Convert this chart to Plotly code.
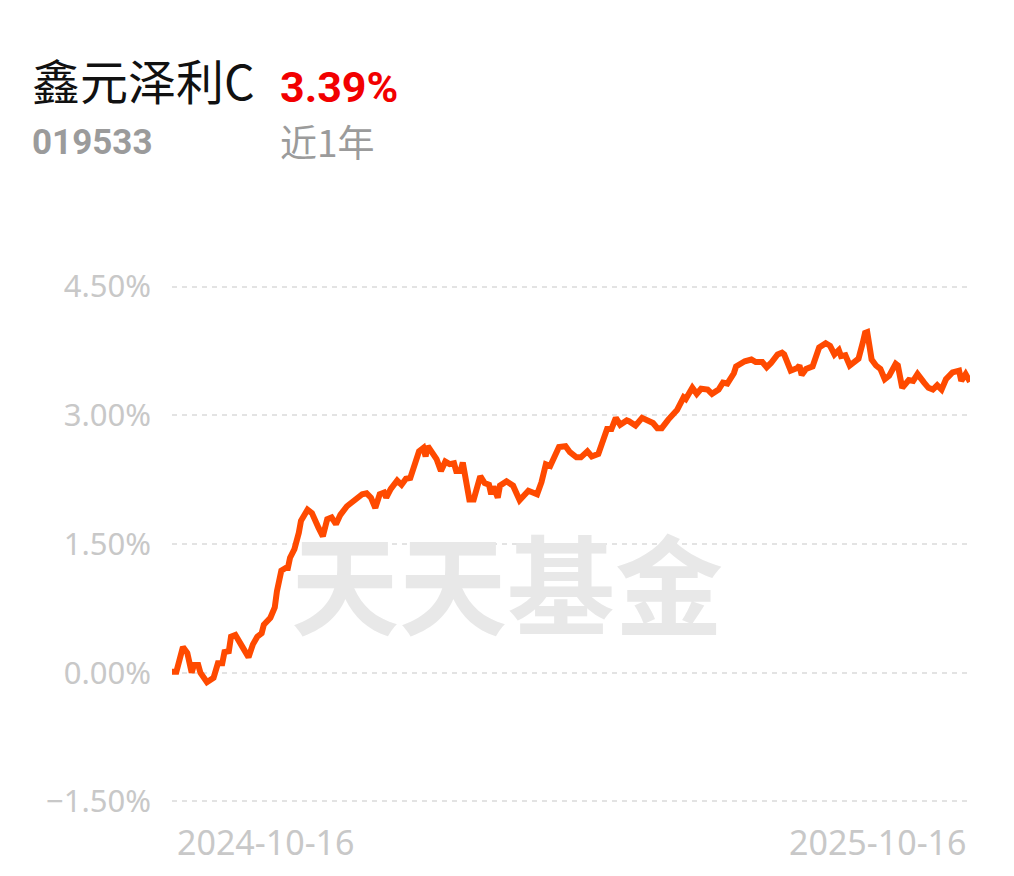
import plotly.graph_objects as go

# ---- data ----
dates = [
    "2024-10-16", "2024-10-18", "2024-10-21", "2024-10-23", "2024-10-25", "2024-10-26",
    "2024-10-28", "2024-10-29", "2024-11-01", "2024-11-04", "2024-11-06", "2024-11-08",
    "2024-11-09", "2024-11-11", "2024-11-12", "2024-11-14", "2024-11-17", "2024-11-20",
    "2024-11-22", "2024-11-24", "2024-11-26", "2024-11-27", "2024-11-30", "2024-12-02",
    "2024-12-03", "2024-12-05", "2024-12-07", "2024-12-08", "2024-12-09", "2024-12-11",
    "2024-12-13", "2024-12-14", "2024-12-17", "2024-12-19", "2024-12-22", "2024-12-24",
    "2024-12-26", "2024-12-28", "2024-12-30", "2025-01-01", "2025-01-04", "2025-01-08",
    "2025-01-11", "2025-01-13", "2025-01-15", "2025-01-17", "2025-01-19", "2025-01-21",
    "2025-01-22", "2025-01-24", "2025-01-27", "2025-01-29", "2025-01-31", "2025-02-02",
    "2025-02-04", "2025-02-06", "2025-02-08", "2025-02-09", "2025-02-10", "2025-02-13",
    "2025-02-14", "2025-02-16", "2025-02-18", "2025-02-20", "2025-02-22", "2025-02-23",
    "2025-02-25", "2025-02-26", "2025-02-27", "2025-03-01", "2025-03-03", "2025-03-06",
    "2025-03-08", "2025-03-10", "2025-03-11", "2025-03-12", "2025-03-14", "2025-03-15",
    "2025-03-18", "2025-03-21", "2025-03-24", "2025-03-28", "2025-03-30", "2025-04-01",
    "2025-04-03", "2025-04-05", "2025-04-07", "2025-04-11", "2025-04-14", "2025-04-16",
    "2025-04-19", "2025-04-21", "2025-04-24", "2025-04-26", "2025-04-29", "2025-05-01",
    "2025-05-03", "2025-05-05", "2025-05-07", "2025-05-09", "2025-05-12", "2025-05-13",
    "2025-05-16", "2025-05-19", "2025-05-22", "2025-05-24", "2025-05-26", "2025-05-28",
    "2025-05-31", "2025-06-04", "2025-06-07", "2025-06-08", "2025-06-11", "2025-06-13",
    "2025-06-15", "2025-06-18", "2025-06-20", "2025-06-23", "2025-06-25", "2025-06-27",
    "2025-06-30", "2025-07-01", "2025-07-05", "2025-07-08", "2025-07-10", "2025-07-13",
    "2025-07-15", "2025-07-17", "2025-07-20", "2025-07-22", "2025-07-23", "2025-07-26",
    "2025-07-29", "2025-07-30", "2025-07-31", "2025-08-02", "2025-08-05", "2025-08-07",
    "2025-08-08", "2025-08-11", "2025-08-13", "2025-08-15", "2025-08-17", "2025-08-18",
    "2025-08-20", "2025-08-22", "2025-08-24", "2025-08-26", "2025-08-28", "2025-08-29",
    "2025-08-30", "2025-09-01", "2025-09-03", "2025-09-05", "2025-09-07", "2025-09-09",
    "2025-09-12", "2025-09-13", "2025-09-15", "2025-09-18", "2025-09-20", "2025-09-22",
    "2025-09-25", "2025-09-27", "2025-09-29", "2025-10-01", "2025-10-03", "2025-10-05",
    "2025-10-08", "2025-10-11", "2025-10-12", "2025-10-14", "2025-10-16",
]

returns_pct = [
    0.01, 0.01, 0.30, 0.23, 0.00, 0.09,
    0.09, 0.00, -0.11, -0.06, 0.11, 0.11,
    0.24, 0.25, 0.42, 0.44, 0.31, 0.18,
    0.33, 0.42, 0.46, 0.56, 0.64, 0.76,
    0.95, 1.19, 1.22, 1.22, 1.34, 1.44,
    1.63, 1.77, 1.90, 1.86, 1.69, 1.59,
    1.79, 1.81, 1.73, 1.84, 1.94, 2.02,
    2.08, 2.09, 2.04, 1.92, 2.08, 2.10,
    2.04, 2.14, 2.24, 2.19, 2.26, 2.27,
    2.41, 2.58, 2.62, 2.52, 2.64, 2.54,
    2.49, 2.35, 2.46, 2.43, 2.44, 2.35,
    2.35, 2.45, 2.33, 2.02, 2.02, 2.29,
    2.21, 2.19, 2.08, 2.17, 2.04, 2.18,
    2.23, 2.18, 2.01, 2.12, 2.10, 2.08,
    2.22, 2.43, 2.41, 2.63, 2.64, 2.57,
    2.51, 2.51, 2.58, 2.52, 2.55, 2.68,
    2.84, 2.84, 2.97, 2.89, 2.94, 2.93,
    2.88, 2.97, 2.94, 2.91, 2.85, 2.85,
    2.95, 3.06, 3.21, 3.19, 3.32, 3.25,
    3.31, 3.30, 3.25, 3.30, 3.38, 3.37,
    3.49, 3.57, 3.63, 3.65, 3.62, 3.62,
    3.56, 3.61, 3.71, 3.73, 3.71, 3.52,
    3.55, 3.58, 3.47, 3.54, 3.57, 3.75,
    3.79, 3.84, 3.81, 3.71, 3.76, 3.69,
    3.70, 3.58, 3.62, 3.66, 3.85, 3.96,
    3.97, 3.65, 3.58, 3.54, 3.42, 3.46,
    3.60, 3.58, 3.32, 3.41, 3.40, 3.48,
    3.38, 3.32, 3.30, 3.35, 3.30, 3.42,
    3.50, 3.52, 3.40, 3.48, 3.39,
]

y_tick_vals = [-1.5, 0.0, 1.5, 3.0, 4.5]
y_tick_text = ["\u22121.50%", "0.00%", "1.50%", "3.00%", "4.50%"]
x_labels = ["2024-10-16", "2025-10-16"]

fund_name = "鑫元泽利C"
fund_code = "019533"
period_return = "3.39%"
period_label = "近1年"
watermark = "天天基金"

LINE_COLOR = "#ff4a00"
TICK_GRAY = "#c8c8c8"
TEXT_GRAY = "#9b9b9b"

fig = go.Figure()
fig.add_trace(go.Scatter(
    x=dates, y=returns_pct, mode="lines",
    line=dict(color=LINE_COLOR, width=6),
    hoverinfo="skip", showlegend=False,
))

# the page adds an 8px body margin, so the figure is 8px smaller and margins shifted
fig.update_layout(
    width=1006, height=868,
    margin=dict(l=164, r=44, t=270, b=66),
    paper_bgcolor="white", plot_bgcolor="white",
    showlegend=False,
    font=dict(family="'Noto Sans', 'Noto Sans CJK SC', sans-serif"),
    xaxis=dict(
        type="date", range=[x_labels[0], x_labels[1]],
        showgrid=False, zeroline=False, showline=False,
        showticklabels=False, ticks="",
    ),
    yaxis=dict(
        range=[-1.6, 4.6],
        tickvals=y_tick_vals, ticktext=y_tick_text,
        showgrid=True, gridcolor="#e3e3e3", gridwidth=2, griddash="5px,5px",
        zeroline=False, showline=False, ticks="",
        ticklabelstandoff=20,
        tickfont=dict(size=31, color=TICK_GRAY, family="Noto Sans"),
    ),
)

annotations = [
    dict(text=watermark, x=0.42, y=0.432, xanchor="center", yanchor="middle",
         font=dict(size=108, color="#e8e8e8", family="Noto Sans CJK SC", weight=700)),
    dict(text=fund_name, x=-0.178, y=1.3735, xanchor="left", yanchor="middle",
         font=dict(size=48, color="#111111", family="Noto Sans CJK SC")),
    dict(text=period_return, x=0.1328, y=1.359, xanchor="left", yanchor="middle",
         font=dict(size=43, color="#f20000", family="Roboto", weight=700)),
    dict(text=fund_code, x=-0.178, y=1.254, xanchor="left", yanchor="middle",
         font=dict(size=35, color=TEXT_GRAY, family="Roboto", weight=700)),
    dict(text=period_label, x=0.1328, y=1.2575, xanchor="left", yanchor="middle",
         font=dict(size=37, color=TEXT_GRAY, family="Noto Sans CJK SC")),
    dict(text=x_labels[0], x=0.004, y=-0.060, xanchor="left", yanchor="middle",
         font=dict(size=34, color=TICK_GRAY, family="Noto Sans")),
    dict(text=x_labels[1], x=0.9975, y=-0.060, xanchor="right", yanchor="middle",
         font=dict(size=34, color=TICK_GRAY, family="Noto Sans")),
]
for a in annotations:
    a.update(xref="paper", yref="paper", showarrow=False)
fig.update_layout(annotations=annotations)

fig.write_html("out.html")
